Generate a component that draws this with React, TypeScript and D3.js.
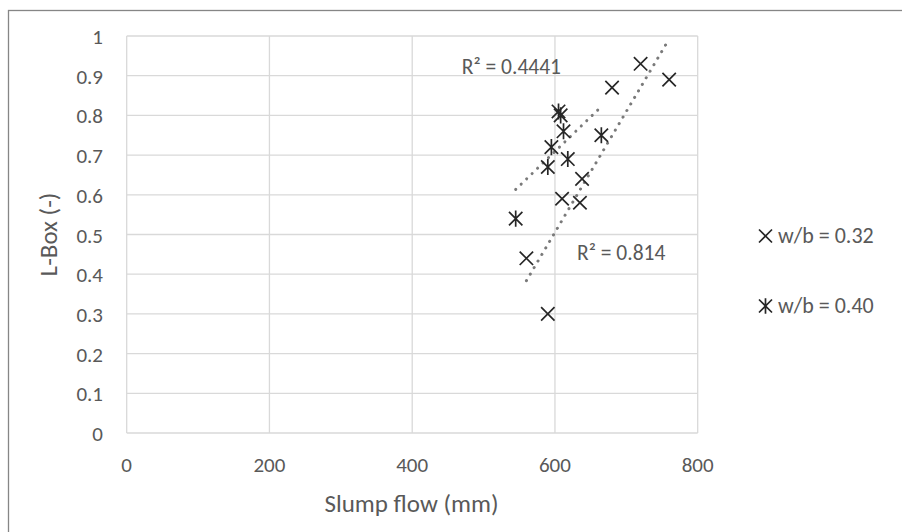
import React from "react";
import * as d3 from "d3";

const xTicks = [0, 200, 400, 600, 800];
const yTicks = [0, 0.1, 0.2, 0.3, 0.4, 0.5, 0.6, 0.7, 0.8, 0.9, 1];

// w/b = 0.32 (X markers)
const x032 = [590, 560, 610, 635, 638, 680, 720, 760];
const y032 = [0.30, 0.44, 0.59, 0.58, 0.64, 0.87, 0.93, 0.89];
// w/b = 0.40 (asterisk markers)
const x040 = [545, 590, 595, 605, 608, 612, 618, 665];
const y040 = [0.54, 0.67, 0.72, 0.81, 0.80, 0.76, 0.69, 0.75];

const seriesNames = ["w/b = 0.32", "w/b = 0.40"];
const r2Labels = ["R² = 0.814", "R² = 0.4441"];

const FONT = "Carlito, Calibri, Lato, sans-serif";
const TXT = "#595959";
const GRID = "#d9d9d9";
const MARK = "#262626";

function fit(xs: number[], ys: number[]) {
  const mx = d3.mean(xs)!;
  const my = d3.mean(ys)!;
  let sxy = 0, sxx = 0;
  xs.forEach((x, i) => {
    sxy += (x - mx) * (ys[i] - my);
    sxx += (x - mx) * (x - mx);
  });
  const b = sxy / sxx;
  const a = my - b * mx;
  const [x0, x1] = d3.extent(xs) as [number, number];
  return [
    [x0, a + b * x0],
    [x1, a + b * x1],
  ];
}

function XMark({ cx, cy, s = 6.7 }: { cx: number; cy: number; s?: number }) {
  return (
    <path
      d={`M${cx - s},${cy - s}L${cx + s},${cy + s}M${cx - s},${cy + s}L${cx + s},${cy - s}`}
      stroke={MARK}
      strokeWidth={1.7}
      fill="none"
    />
  );
}
function StarMark({ cx, cy, s = 6.7 }: { cx: number; cy: number; s?: number }) {
  return (
    <path
      d={`M${cx - s},${cy - s}L${cx + s},${cy + s}M${cx - s},${cy + s}L${cx + s},${cy - s}M${cx},${cy - s * 1.2}L${cx},${cy + s * 1.2}`}
      stroke={MARK}
      strokeWidth={1.7}
      fill="none"
    />
  );
}

export default function App() {
  const x = d3.scaleLinear().domain([0, 800]).range([126.7, 697.7]);
  const y = d3.scaleLinear().domain([0, 1]).range([433, 36]);
  const line = d3
    .line<number[]>()
    .x((d) => x(d[0]))
    .y((d) => y(d[1]));
  const t032 = fit(x032, y032);
  const t040 = fit(x040, y040);

  return (
    <svg
      width={902}
      height={532}
      style={{ position: "absolute", left: 0, top: 0, background: "#fff" }}
      fontFamily={FONT}
    >
      <rect x={8.5} y={10.5} width={900} height={530} fill="#fff" stroke="#868686" strokeWidth={1.3} />
      {/* grid */}
      {yTicks.map((t) => (
        <line key={"gy" + t} x1={x(0)} x2={x(800)} y1={y(t)} y2={y(t)} stroke={GRID} strokeWidth={1.3} />
      ))}
      {xTicks.map((t) => (
        <line key={"gx" + t} x1={x(t)} x2={x(t)} y1={y(0)} y2={y(1)} stroke={GRID} strokeWidth={1.3} />
      ))}
      {/* tick labels */}
      {yTicks.map((t) => (
        <text key={"ty" + t} x={103} y={y(t) + 8} textAnchor="end" fontSize={21} fill={TXT}>
          {d3.format("~g")(t)}
        </text>
      ))}
      {xTicks.map((t) => (
        <text key={"tx" + t} x={x(t)} y={471.5} textAnchor="middle" fontSize={21} fill={TXT}>
          {t}
        </text>
      ))}
      {/* axis titles */}
      <text x={411.5} y={511.5} textAnchor="middle" fontSize={25} fill={TXT}>
        Slump flow (mm)
      </text>
      <text
        transform={`translate(57,${(y(0) + y(1)) / 2}) rotate(-90)`}
        textAnchor="middle"
        fontSize={25}
        fill={TXT}
      >
        L-Box (-)
      </text>
      {/* trend lines */}
      {[t032, t040].map((t, i) => (
        <path
          key={"tl" + i}
          d={line(t as number[][])!}
          stroke="#7a7a7a"
          strokeWidth={3}
          strokeLinecap="round"
          strokeDasharray="0.1 7.5"
          fill="none"
        />
      ))}
      {/* markers */}
      {x032.map((v, i) => (
        <XMark key={"a" + i} cx={x(v)} cy={y(y032[i])} />
      ))}
      {x040.map((v, i) => (
        <StarMark key={"b" + i} cx={x(v)} cy={y(y040[i])} />
      ))}
      {/* R² labels */}
      <text x={577} y={260} fontSize={21.5} fill={TXT}>
        {r2Labels[0]}
      </text>
      <text x={561} y={74} textAnchor="end" fontSize={21.5} fill={TXT}>
        {r2Labels[1]}
      </text>
      {/* legend */}
      <XMark cx={765.5} cy={236} s={6.5} />
      <text x={778} y={242.5} fontSize={22} fill={TXT}>
        {seriesNames[0]}
      </text>
      <StarMark cx={765.5} cy={306} s={6.5} />
      <text x={778} y={312.5} fontSize={22} fill={TXT}>
        {seriesNames[1]}
      </text>
    </svg>
  );
}
